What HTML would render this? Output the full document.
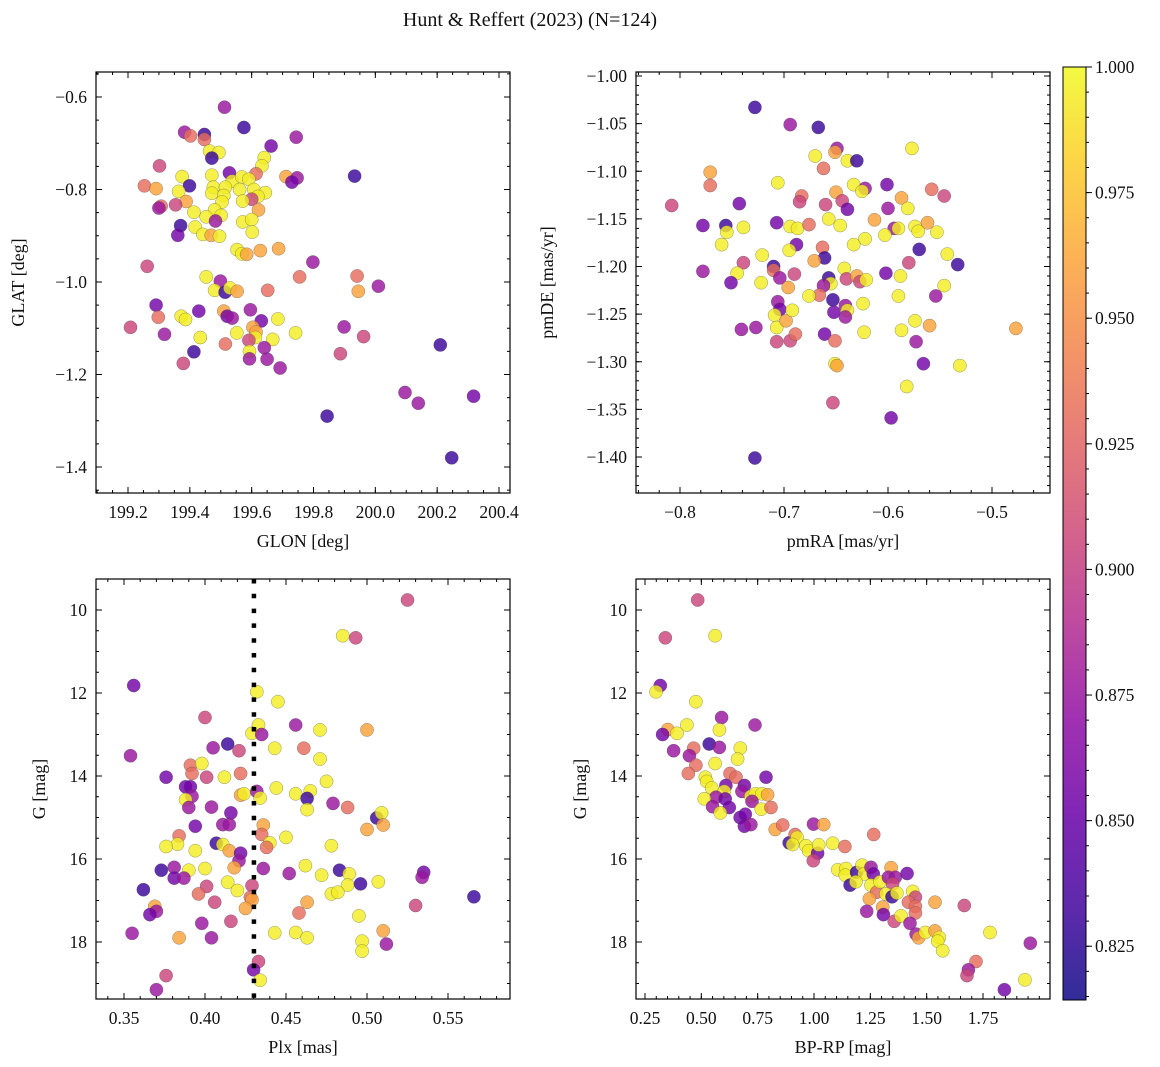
<!DOCTYPE html>
<html><head><meta charset="utf-8"><style>
html,body{margin:0;padding:0;background:#fff}
svg{display:block}
text{font-family:"Liberation Serif","DejaVu Serif",serif;fill:#111}
</style></head><body>
<svg id="fig" width="1160" height="1067" viewBox="0 0 1160 1067" xmlns="http://www.w3.org/2000/svg">
<text x="530" y="26" font-size="20" text-anchor="middle">Hunt &amp; Reffert (2023) (N=124)</text>
</svg>
<script>
// ---- Panel 1: GLON / GLAT ----
const p1_glon=[199.512,199.575,199.383,199.402,199.447,199.447,199.663,199.744,199.464,199.494,199.471,199.641,199.633,199.302,199.528,199.614,199.711,199.747,199.730,199.933,199.375,199.471,199.537,199.568,199.591,199.253,199.291,199.399,199.364,199.476,199.515,199.561,199.607,199.644,199.471,199.510,199.620,199.600,199.388,199.504,199.571,199.307,199.300,199.354,199.622,199.413,199.480,199.501,199.453,199.483,199.571,199.600,199.370,199.361,199.417,199.602,199.442,199.469,199.496,199.553,199.568,199.584,199.628,199.687,199.262,199.798,199.941,199.945,199.755,200.010,199.453,199.499,199.480,199.514,199.530,199.553,199.652,199.291,199.429,199.298,199.372,199.386,199.510,199.521,199.537,199.596,199.631,199.685,199.208,199.318,199.604,199.614,199.742,199.434,199.552,199.612,199.668,199.591,199.899,199.962,199.413,199.515,199.641,199.593,199.593,199.650,199.887,199.692,199.379,200.210,200.096,200.139,200.318,199.844,200.247];
const p1_glat=[-0.622,-0.666,-0.676,-0.684,-0.681,-0.692,-0.706,-0.687,-0.717,-0.720,-0.732,-0.731,-0.749,-0.749,-0.764,-0.766,-0.772,-0.775,-0.784,-0.771,-0.772,-0.769,-0.782,-0.773,-0.778,-0.792,-0.798,-0.792,-0.804,-0.795,-0.795,-0.800,-0.800,-0.807,-0.808,-0.813,-0.815,-0.821,-0.826,-0.827,-0.825,-0.836,-0.840,-0.833,-0.844,-0.849,-0.844,-0.856,-0.859,-0.868,-0.870,-0.865,-0.878,-0.899,-0.881,-0.892,-0.897,-0.899,-0.901,-0.930,-0.939,-0.940,-0.932,-0.928,-0.966,-0.957,-0.987,-1.020,-0.989,-1.009,-0.989,-0.998,-1.018,-1.022,-1.013,-1.020,-1.018,-1.050,-1.063,-1.076,-1.074,-1.081,-1.063,-1.074,-1.078,-1.060,-1.084,-1.080,-1.098,-1.113,-1.098,-1.108,-1.110,-1.120,-1.110,-1.120,-1.124,-1.126,-1.097,-1.118,-1.151,-1.134,-1.142,-1.150,-1.166,-1.167,-1.155,-1.186,-1.176,-1.136,-1.239,-1.262,-1.247,-1.290,-1.380];
const p1_prob=[.875,.83,.875,.93,.83,.93,.855,.875,.995,.995,.83,.995,.995,.905,.855,.93,.96,.875,.855,.83,.995,.995,.995,.995,.995,.93,.96,.83,.995,.995,.995,.995,.995,.995,.995,.995,.995,.905,.96,.995,.995,.93,.875,.905,.96,.995,.995,.995,.995,.875,.995,.995,.83,.855,.995,.995,.995,.96,.995,.995,.995,.96,.96,.96,.905,.875,.93,.96,.93,.875,.995,.875,.995,.83,.995,.96,.93,.855,.855,.93,.995,.995,.96,.855,.875,.875,.855,.995,.905,.875,.96,.96,.995,.995,.995,.995,.995,.905,.875,.905,.83,.93,.875,.995,.875,.875,.905,.875,.905,.83,.875,.875,.855,.83,.83];
const p1_xticks=[199.2,199.4,199.6,199.8,200.0,200.2,200.4];
const p1_xlabels=["199.2","199.4","199.6","199.8","200.0","200.2","200.4"];
const p1_yticks=[-0.6,-0.8,-1.0,-1.2,-1.4];
const p1_ylabels=["−0.6","−0.8","−1.0","−1.2","−1.4"];

// ---- Panel 2: pmRA / pmDE ----
const p2_pmra=[-0.728,-0.694,-0.667,-0.577,-0.649,-0.651,-0.670,-0.639,-0.630,-0.662,-0.771,-0.771,-0.706,-0.633,-0.622,-0.625,-0.601,-0.558,-0.546,-0.808,-0.743,-0.683,-0.685,-0.660,-0.650,-0.644,-0.639,-0.600,-0.587,-0.581,-0.778,-0.756,-0.755,-0.739,-0.760,-0.707,-0.694,-0.687,-0.676,-0.657,-0.646,-0.613,-0.594,-0.590,-0.603,-0.574,-0.571,-0.562,-0.553,-0.622,-0.633,-0.688,-0.695,-0.663,-0.661,-0.671,-0.721,-0.570,-0.543,-0.533,-0.580,-0.739,-0.778,-0.745,-0.751,-0.722,-0.710,-0.710,-0.704,-0.690,-0.696,-0.657,-0.655,-0.662,-0.642,-0.640,-0.630,-0.627,-0.621,-0.602,-0.588,-0.546,-0.554,-0.590,-0.624,-0.666,-0.676,-0.653,-0.652,-0.641,-0.639,-0.641,-0.706,-0.704,-0.709,-0.707,-0.698,-0.692,-0.741,-0.727,-0.707,-0.694,-0.689,-0.661,-0.651,-0.623,-0.587,-0.574,-0.560,-0.573,-0.477,-0.651,-0.649,-0.566,-0.531,-0.582,-0.653,-0.597,-0.728];
const p2_pmde=[-1.033,-1.051,-1.054,-1.076,-1.076,-1.080,-1.084,-1.089,-1.089,-1.097,-1.101,-1.115,-1.112,-1.114,-1.118,-1.121,-1.114,-1.119,-1.126,-1.136,-1.134,-1.126,-1.132,-1.135,-1.122,-1.131,-1.140,-1.139,-1.128,-1.139,-1.157,-1.157,-1.164,-1.159,-1.177,-1.154,-1.158,-1.160,-1.156,-1.150,-1.157,-1.151,-1.160,-1.160,-1.167,-1.158,-1.163,-1.154,-1.164,-1.171,-1.177,-1.177,-1.183,-1.180,-1.191,-1.194,-1.188,-1.182,-1.187,-1.198,-1.196,-1.196,-1.205,-1.207,-1.217,-1.217,-1.200,-1.204,-1.212,-1.208,-1.222,-1.212,-1.218,-1.220,-1.202,-1.213,-1.210,-1.216,-1.214,-1.207,-1.210,-1.220,-1.231,-1.231,-1.239,-1.230,-1.231,-1.235,-1.248,-1.241,-1.246,-1.253,-1.237,-1.245,-1.251,-1.264,-1.257,-1.246,-1.266,-1.264,-1.279,-1.278,-1.271,-1.271,-1.278,-1.269,-1.267,-1.257,-1.262,-1.279,-1.265,-1.302,-1.304,-1.302,-1.304,-1.326,-1.343,-1.359,-1.401];
const p2_prob=[.83,.875,.83,.995,.875,.96,.995,.995,.83,.93,.96,.93,.995,.995,.875,.995,.855,.93,.905,.905,.855,.93,.905,.905,.96,.905,.855,.875,.96,.995,.855,.83,.995,.995,.995,.855,.995,.995,.93,.995,.995,.96,.875,.995,.995,.995,.995,.96,.995,.995,.995,.855,.995,.93,.83,.96,.995,.83,.995,.83,.905,.905,.875,.995,.855,.995,.83,.93,.875,.905,.96,.83,.995,.875,.995,.905,.96,.905,.995,.855,.995,.995,.875,.995,.995,.93,.995,.83,.855,.875,.995,.875,.875,.855,.995,.995,.96,.995,.875,.875,.905,.905,.93,.855,.93,.995,.995,.995,.96,.875,.96,.995,.96,.855,.995,.995,.905,.855,.83];
const p2_xticks=[-0.8,-0.7,-0.6,-0.5];
const p2_xlabels=["−0.8","−0.7","−0.6","−0.5"];
const p2_yticks=[-1.00,-1.05,-1.10,-1.15,-1.20,-1.25,-1.30,-1.35,-1.40];
const p2_ylabels=["−1.00","−1.05","−1.10","−1.15","−1.20","−1.25","−1.30","−1.35","−1.40"];

// ---- Panel 3: Plx / G ----
const p3_plx=[.525,.485,.493,.356,.432,.445,.400,.433,.456,.471,.500,.429,.435,.443,.461,.471,.354,.405,.414,.421,.391,.398,.392,.401,.412,.422,.376,.388,.391,.392,.388,.390,.404,.422,.424,.432,.434,.444,.456,.465,.463,.463,.475,.479,.488,.506,.509,.510,.500,.416,.411,.415,.394,.436,.435,.440,.438,.450,.478,.384,.383,.376,.394,.407,.411,.415,.422,.421,.418,.436,.452,.462,.472,.483,.489,.488,.496,.507,.535,.534,.373,.381,.390,.400,.381,.387,.362,.401,.396,.414,.420,.429,.428,.429,.425,.406,.478,.482,.463,.458,.495,.530,.566,.369,.370,.366,.398,.416,.355,.384,.404,.443,.456,.463,.510,.497,.497,.512,.433,.430,.434,.376,.370];
const p3_g=[9.76,10.62,10.67,11.82,11.97,12.21,12.59,12.77,12.77,12.89,12.89,12.97,13.00,13.33,13.33,13.59,13.51,13.32,13.23,13.39,13.74,13.70,13.94,14.03,14.03,13.94,14.03,14.26,14.26,14.49,14.57,14.76,14.75,14.46,14.43,14.37,14.53,14.29,14.43,14.36,14.54,14.81,14.13,14.66,14.76,15.01,14.89,15.18,15.29,14.89,15.17,15.17,15.21,15.18,15.41,15.61,15.72,15.48,15.68,15.44,15.64,15.70,15.80,15.62,15.65,15.80,15.86,16.04,16.21,16.23,16.35,16.16,16.39,16.27,16.36,16.63,16.60,16.55,16.32,16.44,16.27,16.20,16.27,16.23,16.46,16.46,16.74,16.66,16.84,16.56,16.76,16.64,16.92,16.98,17.19,17.04,16.84,16.80,17.04,17.30,17.37,17.12,16.91,17.14,17.26,17.34,17.55,17.50,17.79,17.90,17.90,17.78,17.77,17.90,17.73,17.98,18.22,18.05,18.47,18.67,18.92,18.81,19.15];
const p3_prob=[.905,.995,.905,.855,.995,.995,.905,.995,.875,.995,.96,.995,.875,.995,.93,.995,.875,.875,.83,.905,.93,.995,.93,.905,.995,.93,.855,.855,.855,.875,.995,.875,.875,.96,.995,.875,.995,.995,.995,.995,.83,.995,.995,.875,.93,.83,.995,.96,.96,.855,.875,.875,.855,.96,.93,.995,.93,.995,.995,.93,.995,.995,.995,.83,.995,.96,.855,.875,.96,.875,.875,.995,.995,.83,.995,.995,.83,.995,.855,.875,.83,.875,.995,.995,.855,.875,.83,.905,.93,.995,.995,.905,.93,.96,.96,.905,.995,.995,.96,.93,.995,.905,.83,.96,.875,.855,.875,.905,.875,.96,.875,.995,.995,.995,.96,.995,.995,.875,.905,.855,.995,.905,.875];
const p3_cut=[0.4302];
const p3_xticks=[0.35,0.40,0.45,0.50,0.55];
const p3_xlabels=["0.35","0.40","0.45","0.50","0.55"];
const gTicks=[10,12,14,16,18];
const gLabels=["10","12","14","16","18"];

// ---- Panel 4: BP-RP / G ----
const p4_bprp=[.484,.340,.561,.318,.299,.476,.590,.738,.436,.351,.328,.392,.580,.377,.466,.447,.535,.580,.673,.661,.561,.476,.442,.627,.654,.787,.518,.524,.546,.609,.602,.691,.680,.565,.606,.513,.550,.624,.584,.720,.740,.769,.794,.725,.766,.809,.672,.695,.691,.720,.828,.861,.998,1.043,1.265,.890,.916,.925,.905,.964,.976,1.016,1.021,.997,1.083,1.137,1.105,1.142,1.139,1.189,1.213,1.223,1.253,1.263,1.160,1.186,1.253,1.278,1.293,1.342,1.330,1.361,1.349,1.413,1.319,1.346,1.368,1.438,1.450,1.419,1.246,1.305,1.308,1.234,1.356,1.386,1.450,1.450,1.537,1.667,1.426,1.453,1.464,1.494,1.537,1.556,1.549,1.571,1.781,1.960,1.719,1.685,1.679,1.936,1.845];
const p4_g=[9.76,10.67,10.62,11.82,11.97,12.21,12.59,12.77,12.77,12.88,13.00,12.97,12.89,13.39,13.33,13.51,13.23,13.31,13.33,13.59,13.70,13.74,13.94,13.94,14.03,14.03,14.03,14.13,14.29,14.23,14.37,14.23,14.37,14.51,14.55,14.55,14.74,14.76,14.89,14.49,14.43,14.43,14.45,14.61,14.80,14.76,15.00,14.92,15.21,15.17,15.29,15.18,15.16,15.17,15.41,15.61,15.41,15.48,15.65,15.68,15.80,15.86,15.66,16.04,15.62,15.70,16.26,16.23,16.39,16.32,16.15,16.36,16.20,16.36,16.63,16.55,16.63,16.80,16.55,16.21,16.44,16.44,16.60,16.35,16.84,16.91,16.82,16.78,16.92,17.04,16.96,17.16,17.34,17.26,17.50,17.37,17.14,17.30,17.04,17.12,17.55,17.81,17.90,17.77,17.73,17.89,17.98,18.21,17.77,18.03,18.47,18.67,18.81,18.91,19.15];
const p4_prob=[.905,.905,.995,.855,.995,.995,.875,.875,.995,.96,.855,.995,.995,.875,.93,.875,.83,.875,.995,.995,.995,.93,.93,.93,.93,.855,.995,.995,.995,.855,.995,.855,.875,.875,.855,.995,.875,.855,.995,.995,.995,.995,.96,.875,.995,.93,.855,.855,.855,.875,.96,.93,.875,.96,.93,.83,.93,.995,.995,.995,.995,.855,.995,.905,.995,.93,.995,.995,.995,.83,.995,.995,.875,.855,.83,.995,.995,.93,.995,.96,.875,.875,.905,.855,.995,.83,.995,.995,.905,.93,.96,.96,.855,.875,.905,.995,.93,.93,.96,.905,.875,.875,.96,.995,.96,.995,.995,.995,.995,.875,.93,.875,.905,.995,.855];
const p4_xticks=[0.25,0.50,0.75,1.00,1.25,1.50,1.75];
const p4_xlabels=["0.25","0.50","0.75","1.00","1.25","1.50","1.75"];

// ---- Colorbar ----
const cbTicks=[0.825,0.850,0.875,0.900,0.925,0.950,0.975,1.000];
const cbLabels=["0.825","0.850","0.875","0.900","0.925","0.950","0.975","1.000"];
const cbMin=0.8143, cbMax=1.0;

const NS="http://www.w3.org/2000/svg";
const svg=document.getElementById('fig');
function mk(tag,attrs,parent){const e=document.createElementNS(NS,tag);for(const k in attrs)e.setAttribute(k,attrs[k]);(parent||svg).appendChild(e);return e;}
function lin(d0,p0,d1,p1){const s=(p1-p0)/(d1-d0);return v=>p0+(v-d0)*s;}
const PL=[[0,13,8,135],[.1,65,4,157],[.2,106,0,168],[.3,143,13,164],[.4,177,42,144],[.5,204,71,120],[.6,225,100,98],[.7,242,132,75],[.8,252,166,54],[.9,252,206,37],[1,240,249,33]];
function plasma(t){t=Math.max(0,Math.min(1,t));for(let i=1;i<PL.length;i++){if(t<=PL[i][0]){const a=PL[i-1],b=PL[i],f=(t-a[0])/(b[0]-a[0]);return 'rgb('+[1,2,3].map(k=>Math.round(a[k]+(b[k]-a[k])*f)).join(',')+')';}}return 'rgb(240,249,33)';}
function pcol(p){return plasma((p-cbMin)/(cbMax-cbMin));}
const FS=17.5;
function panel(o){
  const g=mk('g',{});
  
  
  const X=lin(o.xc[0],o.xc[1],o.xc[2],o.xc[3]);
  const Y=lin(o.yc[0],o.yc[1],o.yc[2],o.yc[3]);
  const cid='clip-'+o.name;
  const cp=mk('clipPath',{id:cid},g);mk('rect',{x:o.L,y:o.T,width:o.R-o.L,height:o.B-o.T},cp);
  const pts=mk('g',{'clip-path':'url(#'+cid+')'},g);
  
  
  for(let i=0;i<o.xs.length;i++){
    const c=mk('circle',{cx:X(o.xs[i]).toFixed(1),cy:Y(o.ys[i]).toFixed(1),r:6.6,fill:pcol(o.ps[i]),'fill-opacity':0.82,stroke:'rgba(70,70,70,0.55)','stroke-width':0.5},pts);
    
    
  }
  if(o.vline){const l=mk('line',{x1:X(o.vline),x2:X(o.vline),y1:o.T,y2:o.B,stroke:'#000','stroke-width':4.5,'stroke-dasharray':'4.5 10.3'},g);
    
    }
  mk('rect',{x:o.L,y:o.T,width:o.R-o.L,height:o.B-o.T,fill:'none',stroke:'#000','stroke-width':1.2},g);
  const tk=mk('g',{stroke:'#000','stroke-width':1},g);
  const xd=[o.xc[0]+(o.L-o.xc[1])/((o.xc[3]-o.xc[1])/(o.xc[2]-o.xc[0])),o.xc[0]+(o.R-o.xc[1])/((o.xc[3]-o.xc[1])/(o.xc[2]-o.xc[0]))];
  const yd=[o.yc[0]+(o.T-o.yc[1])/((o.yc[3]-o.yc[1])/(o.yc[2]-o.yc[0])),o.yc[0]+(o.B-o.yc[1])/((o.yc[3]-o.yc[1])/(o.yc[2]-o.yc[0]))];
  const xmn=Math.min(...xd),xmx=Math.max(...xd),ymn=Math.min(...yd),ymx=Math.max(...yd);
  for(let k=Math.ceil(xmn/o.xm-1e-6);k*o.xm<=xmx+1e-9;k++){const x=X(k*o.xm);mk('line',{x1:x,x2:x,y1:o.B,y2:o.B-3},tk);mk('line',{x1:x,x2:x,y1:o.T,y2:o.T+3},tk);}
  for(let k=Math.ceil(ymn/o.ym-1e-6);k*o.ym<=ymx+1e-9;k++){const y=Y(k*o.ym);mk('line',{x1:o.L,x2:o.L+3,y1:y,y2:y},tk);mk('line',{x1:o.R,x2:o.R-3,y1:y,y2:y},tk);}
  o.xt.forEach((v,i)=>{const x=X(v);mk('line',{x1:x,x2:x,y1:o.B,y2:o.B-6},tk);mk('line',{x1:x,x2:x,y1:o.T,y2:o.T+6},tk);
    const t=mk('text',{x:x,y:o.B+25,'font-size':FS,'text-anchor':'middle'},g);t.textContent=o.xl[i];
    
    });
  o.yt.forEach((v,i)=>{const y=Y(v);mk('line',{x1:o.L,x2:o.L+6,y1:y,y2:y},tk);mk('line',{x1:o.R,x2:o.R-6,y1:y,y2:y},tk);
    const t=mk('text',{x:o.L-9,y:y+6,'font-size':FS,'text-anchor':'end'},g);t.textContent=o.yl[i];
    
    });
  const xt=mk('text',{x:(o.L+o.R)/2,y:o.B+54,'font-size':18,'text-anchor':'middle'},g);xt.textContent=o.xlab;
  
  
  const yt=mk('text',{x:0,y:0,'font-size':18,'text-anchor':'middle',transform:'translate('+o.ylx+','+((o.T+o.B)/2)+') rotate(-90)'},g);yt.textContent=o.ylab;
  
  
}
panel({name:'glon-glat-panel',L:96,R:510,T:72,B:493,xc:[199.2,128,200.4,499],yc:[-0.6,97,-1.4,467],xm:0.05,ym:0.05,xs:p1_glon,ys:p1_glat,ps:p1_prob,xt:p1_xticks,xl:p1_xlabels,yt:p1_yticks,yl:p1_ylabels,xlab:'GLON [deg]',ylab:'GLAT [deg]',ylx:24});
panel({name:'pm-panel',L:636,R:1050,T:72,B:493,xc:[-0.8,680,-0.5,992],yc:[-1.0,76,-1.4,457],xm:0.02,ym:0.01,xs:p2_pmra,ys:p2_pmde,ps:p2_prob,xt:p2_xticks,xl:p2_xlabels,yt:p2_yticks,yl:p2_ylabels,xlab:'pmRA [mas/yr]',ylab:'pmDE [mas/yr]',ylx:553});
panel({name:'plx-g-panel',L:96,R:510,T:579,B:999,xc:[0.35,124,0.55,448],yc:[10,610,18,942],xm:0.01,ym:0.5,xs:p3_plx,ys:p3_g,ps:p3_prob,xt:p3_xticks,xl:p3_xlabels,yt:gTicks,yl:gLabels,xlab:'Plx [mas]',ylab:'G [mag]',ylx:45,vline:p3_cut[0]});
panel({name:'cmd-panel',L:636,R:1050,T:579,B:999,xc:[0.25,645,1.75,983],yc:[10,610,18,942],xm:0.05,ym:0.5,xs:p4_bprp,ys:p4_g,ps:p4_prob,xt:p4_xticks,xl:p4_xlabels,yt:gTicks,yl:gLabels,xlab:'BP-RP [mag]',ylab:'G [mag]',ylx:586});

// colorbar
const cb=mk('g',{});


const defs=mk('defs',{},cb);
const lg=mk('linearGradient',{id:'cbg',x1:0,y1:1,x2:0,y2:0},defs);
for(let i=0;i<=20;i++){mk('stop',{offset:i/20,'stop-color':plasma(i/20),'stop-opacity':0.85},lg);}
const CY=lin(cbMin,1000,cbMax,67);
mk('rect',{x:1063,y:67,width:23,height:933,fill:'url(#cbg)',stroke:'#000','stroke-width':1},cb);
for(let v=0.815;v<=1.0001;v+=0.005){const y=CY(v);mk('line',{x1:1086,x2:1089,y1:y,y2:y,stroke:'#000','stroke-width':1},cb);}
cbTicks.forEach((v,i)=>{const y=CY(v);mk('line',{x1:1086,x2:1092,y1:y,y2:y,stroke:'#000','stroke-width':1},cb);
  const t=mk('text',{x:1095,y:y+6,'font-size':FS},cb);t.textContent=cbLabels[i];
  
  });
</script>
</body></html>
